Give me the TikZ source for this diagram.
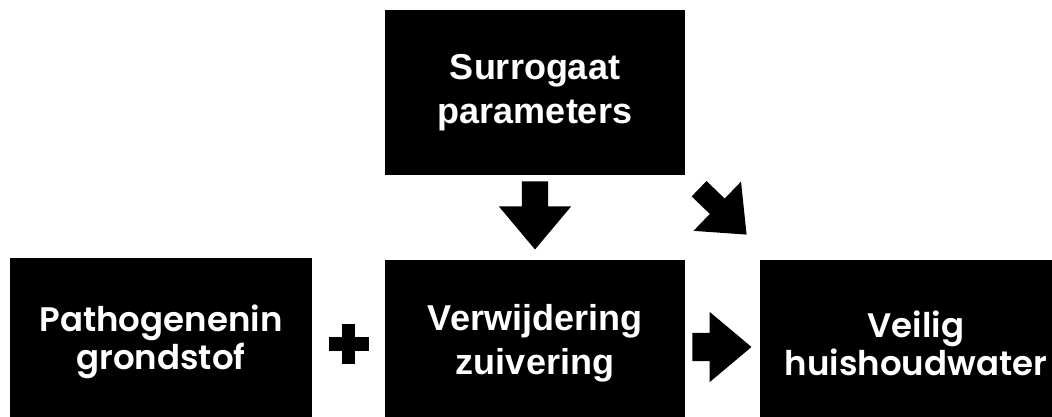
\documentclass[tikz,border=0pt]{standalone}
\usepackage{fontspec}
\setmainfont{Liberation Sans}
\newfontfamily\gothicfont{Poppins}[BoldFont={Poppins SemiBold}]
\usetikzlibrary{shapes.arrows,calc}

\tikzset{
  blackbox/.style={fill=black,text=white,align=center,minimum width=300pt,minimum height=166pt,inner sep=0pt},
  arialtext/.style={font=\fontsize{36}{44}\selectfont\bfseries},
  gothictext/.style={font=\gothicfont\fontsize{34}{38}\selectfont\bfseries},
  blockarrow/.style={single arrow,fill=black,inner xsep=0pt,inner ysep=13pt,single arrow head extend=23pt,single arrow tip angle=80,minimum height=68pt}
}

\begin{document}
\begin{tikzpicture}[x=1pt,y=1pt]
    \useasboundingbox (0,0) rectangle (1052,417);
    \clip (0,0) rectangle (1052,417);

    % boxes
    \node[blackbox,arialtext,minimum height=165pt] (surr) at (535,324.5) {Surrogaat\\parameters};
    \node[blackbox,gothictext,minimum width=302pt,minimum height=168pt] (patho) at (161,75) {Pathogenenin\\grondstof};
    \node[blackbox,arialtext] (verw) at (535,74) {Verwijdering\\zuivering};
    \node[blackbox,gothictext,minimum width=312pt] (veilig) at (916,74) {Veilig\\huishoudwater};

    % block arrows
    \node[blockarrow,rotate=-90,anchor=tip] (down) at ($(verw.north)+(0,10)$) {};
    \node[blockarrow,minimum height=59pt,inner ysep=14pt,single arrow head extend=21pt,anchor=tip] (right) at ($(veilig.west)+(-8,-4)$) {};
    \node[blockarrow,rotate=-44,minimum height=66pt,inner ysep=10.5pt,single arrow head extend=23.5pt,anchor=tip] (diag) at ($(veilig.north west)+(-13,25)$) {};

    % plus sign
    \coordinate (plus) at ($(patho.east)!0.5!(verw.west)+(0,-2)$);
    \draw[line width=14pt] ($(plus)+(-20,0)$) -- ($(plus)+(20,0)$);
    \draw[line width=13pt] ($(plus)+(0,-20)$) -- ($(plus)+(0,20)$);
\end{tikzpicture}
\end{document}
